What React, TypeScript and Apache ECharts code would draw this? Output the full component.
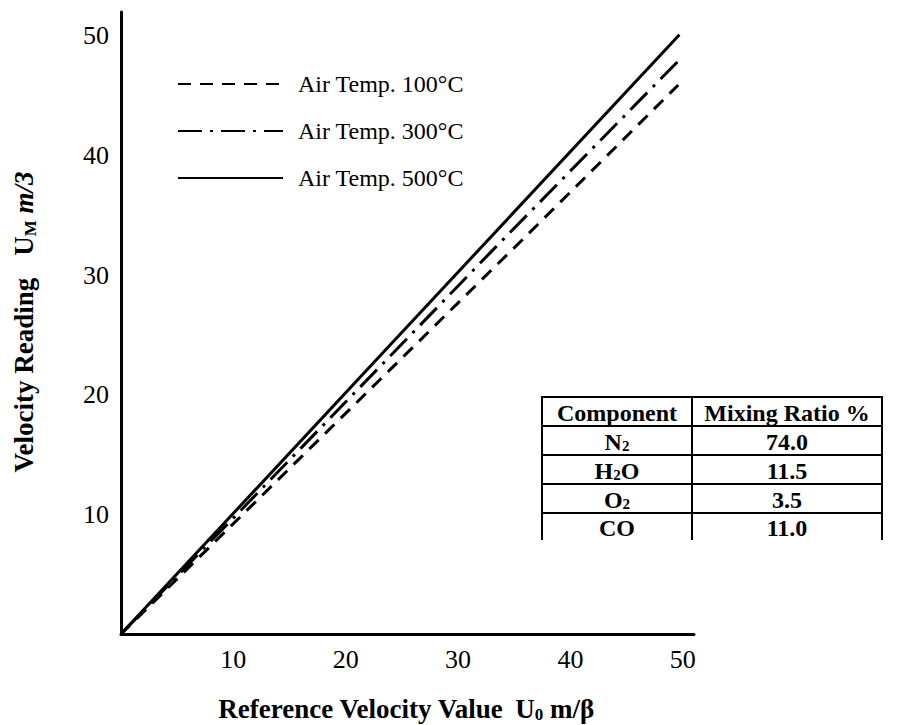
import React, { useEffect, useRef } from 'react';
import * as echarts from 'echarts';

// ---- data ----
const seriesNames = ['Air Temp. 100°C', 'Air Temp. 300°C', 'Air Temp. 500°C'];
const refVelocity100 = [0, 36.2, 49.6];
const reading100 = [0, 33.4, 45.9];
const refVelocity300 = [0, 33.3, 49.7];
const reading300 = [0, 32.3, 48.0];
const refVelocity500 = [0, 23.1, 49.7];
const reading500 = [0, 23.3, 50.1];

const xTickLabels = ['10', '20', '30', '40', '50'];
const yTickLabels = ['10', '20', '30', '40', '50'];

const tableHeader = ['Component', 'Mixing Ratio %'];
const components = ['N2', 'H2O', 'O2', 'CO'];
const mixingRatios = ['74.0', '11.5', '3.5', '11.0'];

const SERIF = '"Liberation Serif", "Times New Roman", serif';

function pairs(xs: number[], ys: number[]) {
  return xs.map((x, i) => [x, ys[i]]);
}

function withSubscripts(s: string) {
  return s.replace(/(\d)/g, '{s|$1}');
}

export default function App() {
  const ref = useRef<HTMLDivElement>(null);

  useEffect(() => {
    if (!ref.current) return;
    const chart = echarts.init(ref.current, undefined, { renderer: 'svg' });

    const subStyle = (size: number) => ({
      fontFamily: SERIF,
      fontWeight: 'bold',
      fontSize: size,
      lineHeight: size,
      verticalAlign: 'bottom',
      fill: '#000',
    });

    // table geometry
    const tLeft = 542;
    const tMid = 692;
    const tRight = 882;
    const tTop = 397;
    const headerH = 29;
    const rowH = 29;
    const lastRowH = 27;
    const rowLines: number[] = [];
    for (let i = 0; i < components.length; i++) rowLines.push(tTop + headerH + i * rowH);
    const tBottom = tTop + headerH + (components.length - 1) * rowH + lastRowH;

    const tableEls: any[] = [];
    const lineStyle = { stroke: '#000', lineWidth: 2 };
    tableEls.push({ type: 'line', shape: { x1: tLeft - 1, y1: tTop, x2: tRight + 1, y2: tTop }, style: lineStyle });
    rowLines.forEach((y) => {
      tableEls.push({ type: 'line', shape: { x1: tLeft, y1: y, x2: tRight, y2: y }, style: lineStyle });
    });
    [tLeft, tMid, tRight].forEach((x) => {
      tableEls.push({ type: 'line', shape: { x1: x, y1: tTop, x2: x, y2: tBottom }, style: lineStyle });
    });
    const cellText = (text: string, cx: number, cy: number) => ({
      type: 'text',
      x: cx,
      y: cy,
      style: {
        text,
        fontFamily: SERIF,
        fontWeight: 'bold',
        fontSize: 24,
        lineHeight: 24,
        fill: '#000',
        align: 'center',
        verticalAlign: 'middle',
        rich: { s: subStyle(15) },
      },
    });
    const c1 = (tLeft + tMid) / 2;
    const c2 = (tMid + tRight) / 2;
    tableEls.push(cellText(tableHeader[0], c1, tTop + headerH / 2 + 1));
    tableEls.push(cellText(tableHeader[1], c2, tTop + headerH / 2 + 1));
    components.forEach((comp, i) => {
      const top = tTop + headerH + i * rowH;
      const h = i === components.length - 1 ? lastRowH : rowH;
      tableEls.push(cellText(withSubscripts(comp), c1, top + h / 2 + 1));
      tableEls.push(cellText(mixingRatios[i], c2, top + h / 2 + 1));
    });

    chart.setOption({
      animation: false,
      backgroundColor: '#fff',
      grid: { left: 121, top: 12, right: 206, bottom: 91 },
      legend: {
        orient: 'vertical',
        left: 172,
        top: 67,
        itemWidth: 105,
        itemHeight: 14,
        itemGap: 23,
        data: seriesNames,
        itemStyle: { color: 'transparent', borderColor: 'transparent', borderWidth: 0 },
        textStyle: {
          fontFamily: SERIF,
          fontSize: 24,
          lineHeight: 24,
          color: '#000',
          padding: [0, 0, 0, 10],
        },
      },
      xAxis: {
        type: 'value',
        min: 0,
        max: 51,
        interval: 10,
        axisLine: { show: true, lineStyle: { color: '#000', width: 3 } },
        axisTick: { show: false },
        splitLine: { show: false },
        axisLabel: {
          margin: 12,
          fontFamily: SERIF,
          fontSize: 26,
          color: '#000',
          formatter: (v: number) => (xTickLabels.includes(String(v)) ? String(v) : ''),
        },
      },
      yAxis: {
        type: 'value',
        min: 0,
        max: 52,
        interval: 10,
        axisLine: { show: true, lineStyle: { color: '#000', width: 3 } },
        axisTick: { show: false },
        splitLine: { show: false },
        axisLabel: {
          margin: 12,
          fontFamily: SERIF,
          fontSize: 26,
          color: '#000',
          formatter: (v: number) => (yTickLabels.includes(String(v)) ? String(v) : ''),
        },
      },
      series: [
        {
          name: seriesNames[0],
          type: 'line',
          symbol: 'none',
          data: pairs(refVelocity100, reading100),
          lineStyle: { color: '#000', width: 3, type: [13, 9] },
          itemStyle: { color: '#000' },
        },
        {
          name: seriesNames[1],
          type: 'line',
          symbol: 'none',
          data: pairs(refVelocity300, reading300),
          lineStyle: { color: '#000', width: 3, type: [24, 8, 3, 8] },
          itemStyle: { color: '#000' },
        },
        {
          name: seriesNames[2],
          type: 'line',
          symbol: 'none',
          data: pairs(refVelocity500, reading500),
          lineStyle: { color: '#000', width: 3, type: 'solid' },
          itemStyle: { color: '#000' },
        },
      ],
      graphic: [
        {
          type: 'text',
          x: 406,
          y: 709,
          style: {
            fontFamily: SERIF,
            fontWeight: 'bold',
            fontSize: 27,
            lineHeight: 28,
            fill: '#000',
            align: 'center',
            verticalAlign: 'middle',
            text: 'Reference Velocity Value{g|}U{s|0} m/β',
            rich: { g: { width: 12 }, s: subStyle(17) },
          },
        },
        {
          type: 'text',
          x: 24,
          y: 322,
          rotation: Math.PI / 2,
          style: {
            fontFamily: SERIF,
            fontWeight: 'bold',
            fontSize: 27,
            lineHeight: 29,
            fill: '#000',
            align: 'center',
            verticalAlign: 'middle',
            text: 'Velocity Reading{g|}U{s|M} {i|m/3}',
            rich: {
              g: { width: 22 },
              s: subStyle(17),
              i: {
                fontFamily: SERIF,
                fontWeight: 'bold',
                fontStyle: 'italic',
                fontSize: 27,
                lineHeight: 29,
                fill: '#000',
              },
            },
          },
        },
        ...tableEls,
      ],
    });

    return () => chart.dispose();
  }, []);

  return (
    <div
      ref={ref}
      style={{ position: 'fixed', left: 0, top: 0, width: 900, height: 725, background: '#fff' }}
    />
  );
}
